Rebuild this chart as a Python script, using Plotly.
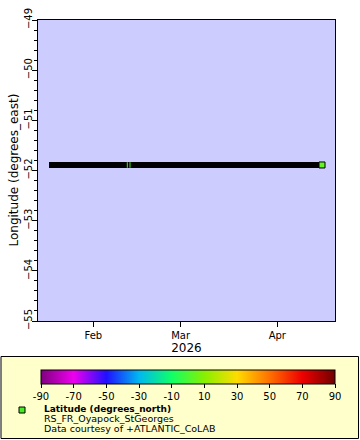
import plotly.graph_objects as go

# ---- data ----
times = ["2026-01-18 18:00", "2026-02-11 21:40", "2026-02-12 18:30", "2026-04-15 08:00"]
longitude = [-51.89, -51.89, -51.89, -51.89]
latitude = [3.9, 3.9, 3.9, 3.9]
month_ticks = ["2026-02-01", "2026-03-01", "2026-04-01"]
month_labels = ["Feb", "Mar", "Apr"]
cbar_ticks = [-90, -70, -50, -30, -10, 10, 30, 50, 70, 90]
station = "RS_FR_Oyapock_StGeorges"
credit = "Data courtesy of +ATLANTIC_CoLAB"

W, H = 360, 440
FONT = "DejaVu Sans"

rainbow = [
    [0 / 9, "#800080"], [1 / 9, "#ee00ee"], [2 / 9, "#2010ff"], [3 / 9, "#00b8f0"],
    [4 / 9, "#10ff68"], [5 / 9, "#88f000"], [6 / 9, "#ffdc00"], [7 / 9, "#ff7000"],
    [8 / 9, "#ee0000"], [9 / 9, "#700000"],
]

def px_x(x):
    return x / W

def px_y(y):
    return 1 - y / H

fig = go.Figure()

# dense series drawn as a thick black band (marker outlines)
fig.add_trace(go.Scatter(
    x=times, y=longitude, mode="lines+markers",
    line=dict(color="black", width=6),
    marker=dict(symbol="square", size=6, color="black"),
    showlegend=False, hoverinfo="skip",
))
# fills showing through at the small gap
fig.add_trace(go.Scatter(
    x=times[1:3], y=longitude[1:3], mode="markers",
    marker=dict(symbol="line-ns", size=4, color=latitude[1:3], colorscale=rainbow,
                cmin=-90, cmax=90, line=dict(width=1, color="#44ee22")),
    showlegend=False, hoverinfo="skip",
))
# last marker, coloured by latitude, carries the colour bar
fig.add_trace(go.Scatter(
    x=times[-1:], y=longitude[-1:], mode="markers",
    marker=dict(symbol="square", size=6, color=latitude[-1:], colorscale=rainbow,
                cmin=-90, cmax=90, line=dict(width=1, color="black"),
                showscale=True,
                colorbar=dict(
                    orientation="h", x=px_x(188), xanchor="center",
                    y=px_y(370), yanchor="top", yref="paper",
                    len=294, lenmode="pixels", thickness=14, thicknessmode="pixels",
                    xpad=0, ypad=0, outlinecolor="black", outlinewidth=1,
                    ticks="outside", ticklen=4, tickcolor="black",
                    tickvals=cbar_ticks, ticktext=[str(v) for v in cbar_ticks],
                    tickfont=dict(family=FONT, size=10, color="black"),
                    bgcolor="rgba(0,0,0,0)",
                )),
    showlegend=False,
))

fig.update_layout(
    width=W, height=H,
    margin=dict(l=0, r=0, t=0, b=0, pad=0, autoexpand=False),
    paper_bgcolor="white", plot_bgcolor="#ccccff",
    font=dict(family=FONT, size=10, color="black"),
    xaxis=dict(
        domain=[px_x(38), px_x(335)],
        type="date", range=["2026-01-14 06:30", "2026-04-19 12:00"],
        tickmode="array", tickvals=month_ticks, ticktext=month_labels,
        ticks="outside", ticklen=5, tickcolor="black",
        showgrid=False, zeroline=False, automargin=False,
        showline=True, linecolor="black", linewidth=1, mirror=True,
        tickfont=dict(size=10),
        title=dict(text="2026", font=dict(size=12), standoff=2),
    ),
    yaxis=dict(
        domain=[px_y(321), px_y(20)],
        range=[-55, -49], dtick=1, tick0=-55,
        ticks="outside", ticklen=5, tickcolor="black", tickangle=-90,
        ticklabelstandoff=-4,
        minor=dict(dtick=0.2, ticks="outside", ticklen=3, tickcolor="black", showgrid=False),
        showgrid=False, zeroline=False, automargin=False,
        showline=True, linecolor="black", linewidth=1, mirror=True,
        tickfont=dict(size=10),
    ),
    shapes=[
        dict(type="rect", xref="paper", yref="paper",
             x0=px_x(1), x1=px_x(358.5), y0=px_y(438.5), y1=px_y(356.5),
             fillcolor="#ffffcc", line=dict(color="black", width=1), layer="below"),
        dict(type="rect", xref="paper", yref="paper",
             x0=px_x(19), x1=px_x(25), y0=px_y(413), y1=px_y(407),
             fillcolor="#44ee22", line=dict(color="black", width=1)),
    ],
    annotations=[
        dict(text="Longitude (degrees_east)", x=px_x(14), y=px_y(170.5),
             xref="paper", yref="paper", xanchor="center", yanchor="middle",
             textangle=-90, showarrow=False, font=dict(size=12)),
        dict(text="<b>Latitude (degrees_north)</b>", x=px_x(42), y=px_y(409),
             xref="paper", yref="paper", xanchor="left", yanchor="middle",
             showarrow=False, font=dict(size=9)),
        dict(text=station, x=px_x(42), y=px_y(418.5), xref="paper", yref="paper",
             xanchor="left", yanchor="middle", showarrow=False, font=dict(size=9.5)),
        dict(text=credit, x=px_x(42), y=px_y(428), xref="paper", yref="paper",
             xanchor="left", yanchor="middle", showarrow=False, font=dict(size=9.5)),
    ],
)

fig.write_html("out.html", config={"displayModeBar": False},
               post_script="document.body.style.margin='0px';")
